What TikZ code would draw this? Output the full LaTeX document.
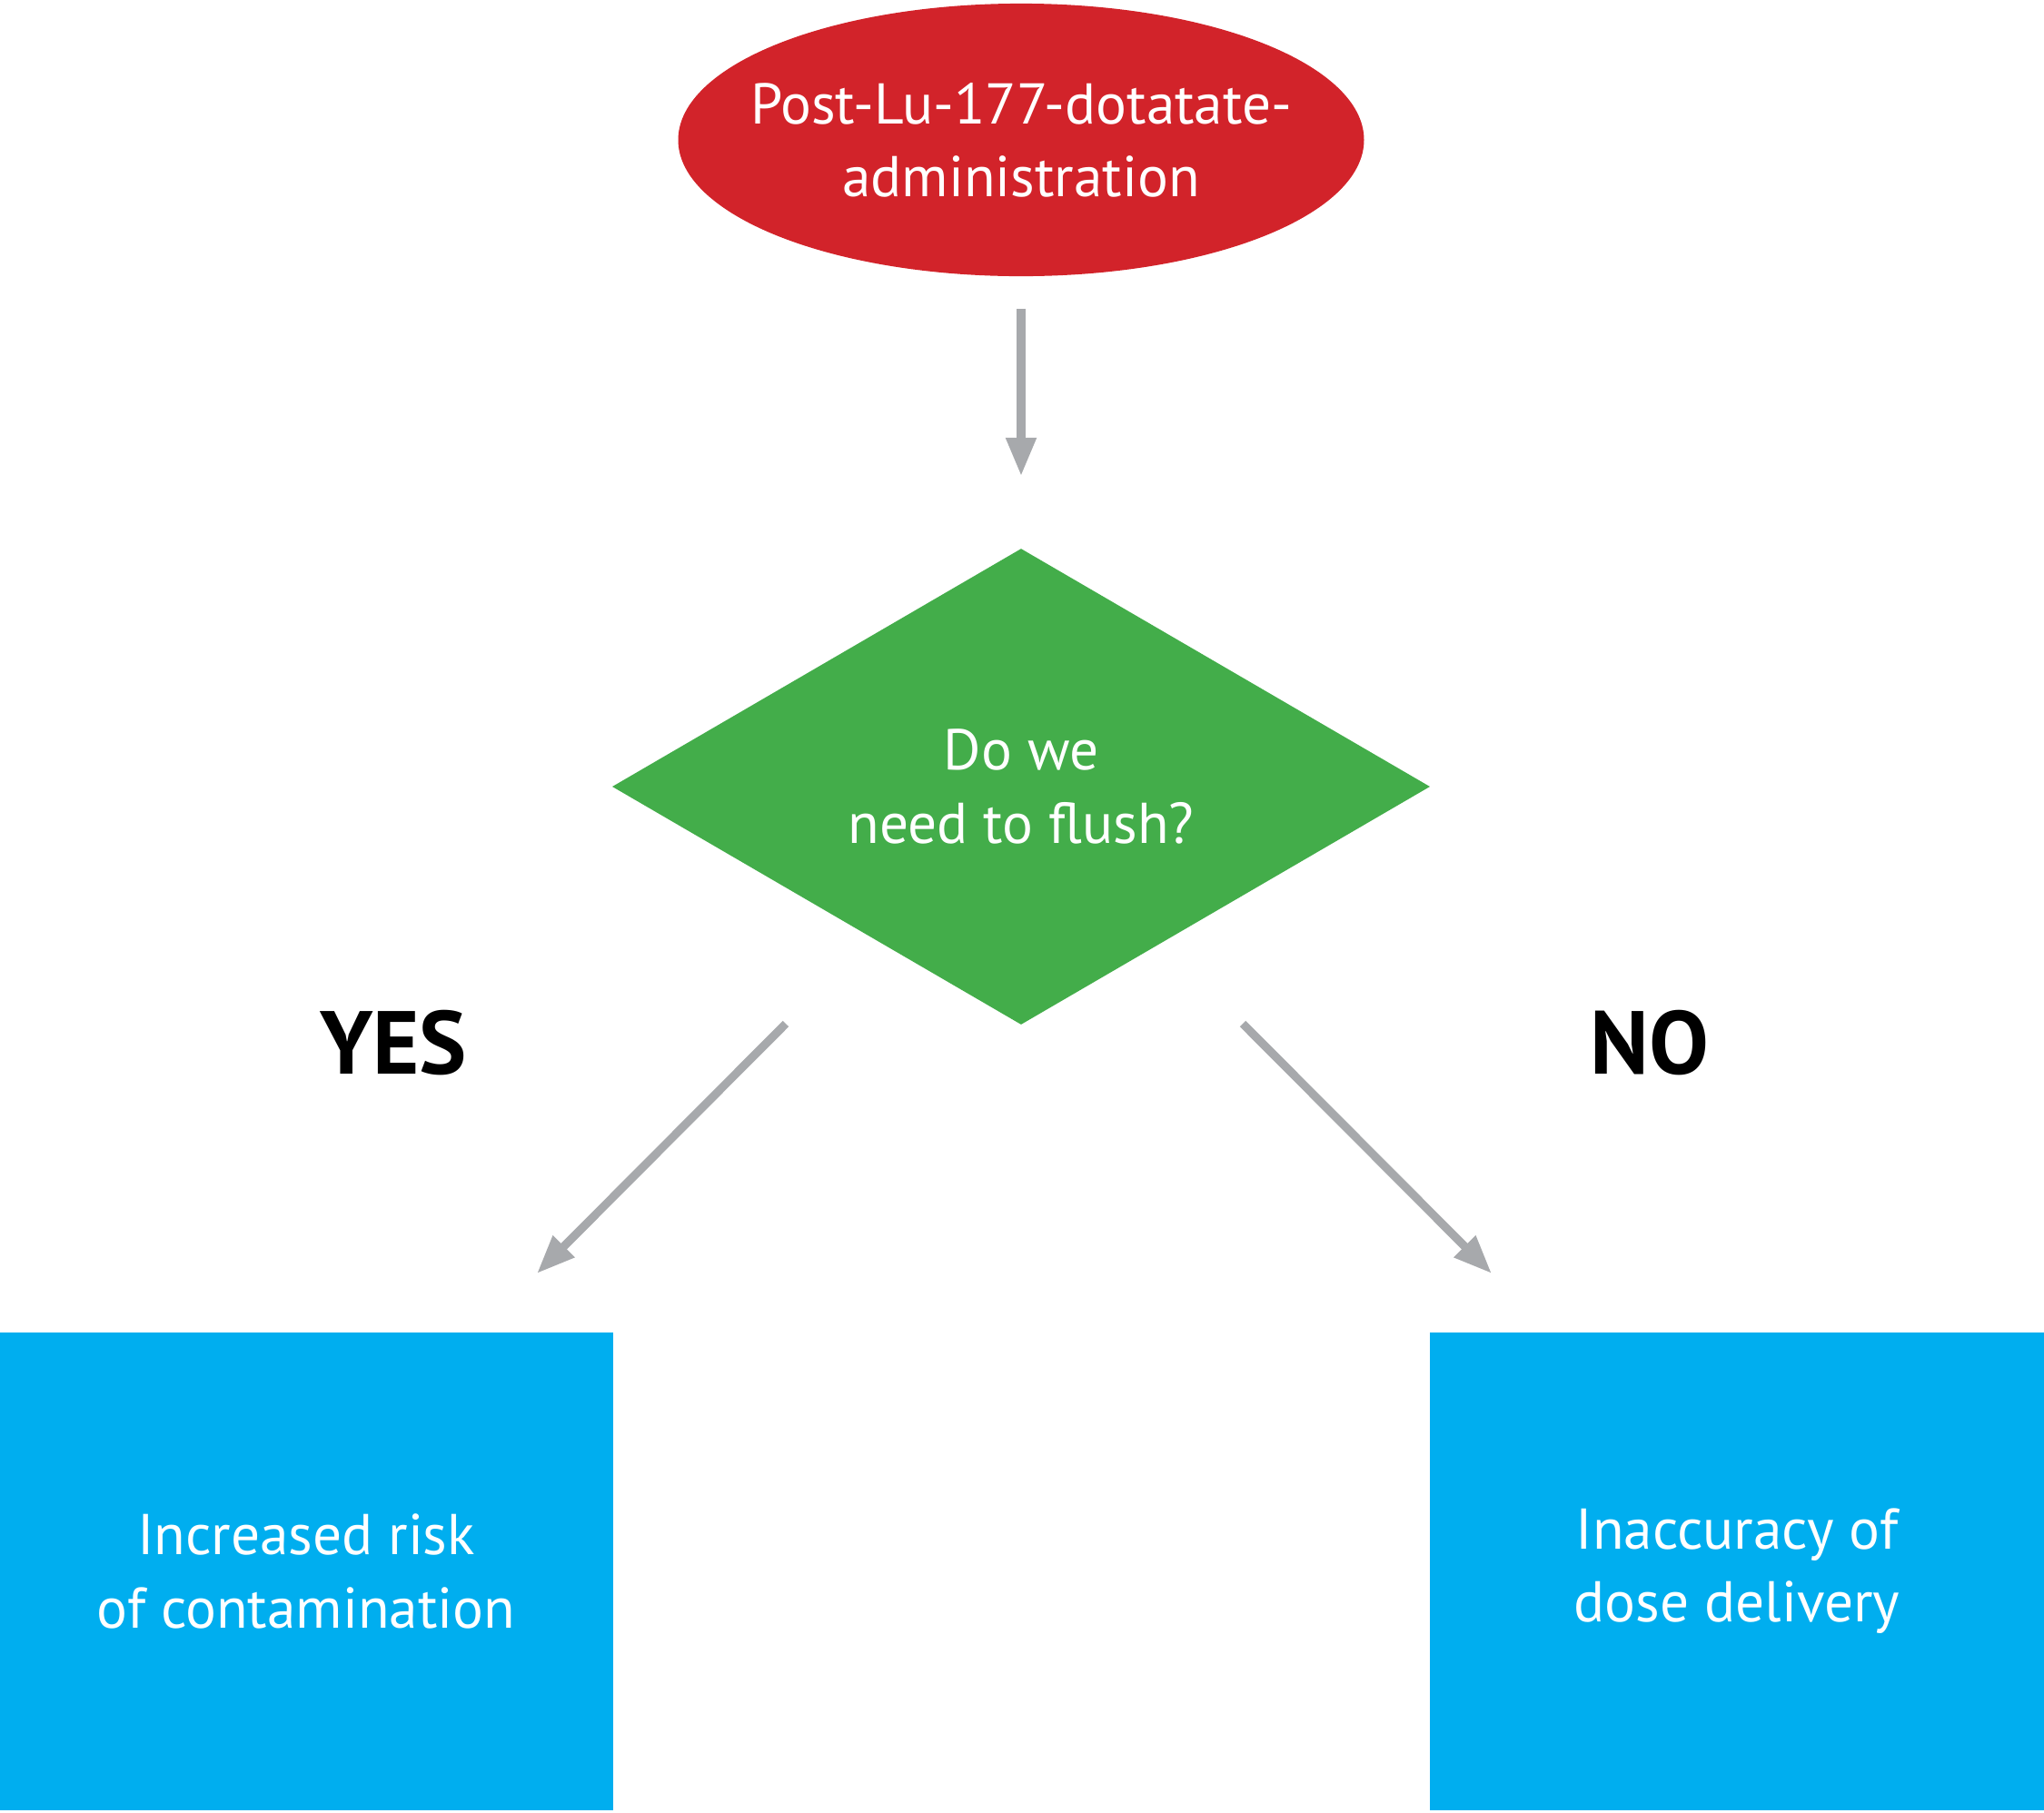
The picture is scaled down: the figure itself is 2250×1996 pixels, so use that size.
\documentclass[tikz,border=0pt]{standalone}
\usepackage{fontspec}
\setmainfont{PT Sans}
\usetikzlibrary{shapes.geometric}
\usetikzlibrary{arrows.meta}
\definecolor{startred}{HTML}{D2232A}
\definecolor{askgreen}{HTML}{43AD4A}
\definecolor{outblue}{HTML}{00AEEF}
\definecolor{arrowgray}{HTML}{A7A9AC}

\begin{document}
\begin{tikzpicture}[x=0.01cm, y=-0.01cm,
  txt/.style={text=white, font=\fontsize{18}{22.8}\selectfont, align=center},
  outcome/.style={txt, fill=outblue, minimum width=6.75cm, minimum height=5.25cm, inner sep=0},
  flow/.style={draw=arrowgray, line width=2.6pt, -{Triangle[length=12pt, width=9pt]}},
  answer/.style={font=\fontsize{28}{30}\selectfont\bfseries}]
\useasboundingbox (0,0) rectangle (2250,1996);
\node[txt, ellipse, fill=startred, minimum width=7.51cm, minimum height=3cm, inner xsep=-0.31cm, inner ysep=0] (start) at (1124,154) {Post-Lu-177-dotatate-\\administration};
\node[txt, diamond, fill=askgreen, aspect=1.72, minimum width=9cm, minimum height=5.24cm, inner sep=0] (flush) at (1124,866) {Do we\\need to flush?};
\node[outcome] (risk) at (337,1730) {Increased risk\\of contamination};
\node[outcome] (dose) at (1912,1730) {Inaccuracy of\\dose delivery};
\node[answer] (yes) at (433,1148) {YES};
\node[answer] (no) at (1816,1148) {NO};
% free ends of the slanted arrows
\coordinate (yesfrom) at (865,1127);
\coordinate (yesto) at (591,1402);
\coordinate (nofrom) at (1368,1127);
\coordinate (noto) at (1642,1402);
\draw[flow, shorten <=0.35cm, shorten >=0.79cm] (start) -- (flush);
\draw[flow] (yesfrom) -- (yesto);
\draw[flow] (nofrom) -- (noto);
\end{tikzpicture}
\end{document}
